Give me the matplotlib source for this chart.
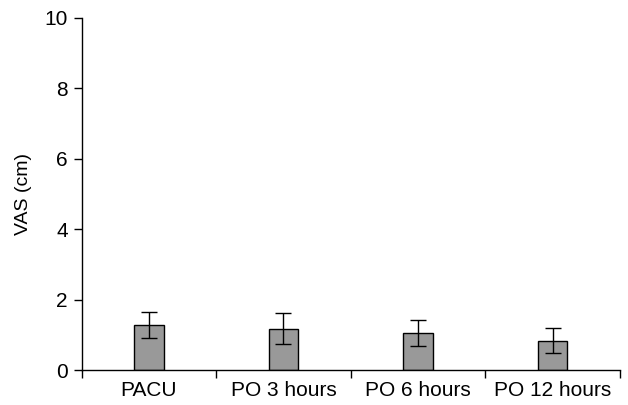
import matplotlib
matplotlib.use("Agg")
import matplotlib.pyplot as plt
import numpy as np

# data
categories = ["PACU", "PO 3 hours", "PO 6 hours", "PO 12 hours"]
vas_mean = [1.27, 1.18, 1.05, 0.84]
vas_err = [0.37, 0.44, 0.36, 0.36]

plt.rcParams['font.family'] = ['Liberation Sans', 'DejaVu Sans']

fig = plt.figure(figsize=(6.28, 4.05), dpi=100)
ax = fig.add_axes([0.130, 0.086, 0.857, 0.870])

x = np.arange(len(categories))
ax.bar(x, vas_mean, width=0.22, color='#999999', edgecolor='black', linewidth=1.0,
       yerr=vas_err, capsize=5.5, error_kw={'elinewidth': 1.0, 'capthick': 1.0, 'ecolor': 'black'})

ax.set_xlim(-0.5, len(categories) - 0.5)
ax.set_ylim(0, 10)
ax.set_yticks([0, 2, 4, 6, 8, 10])
ax.set_xticks(x)
ax.set_xticklabels(categories)
ax.tick_params(axis='x', which='major', length=0, pad=8, labelsize=15)
ax.set_xticks(np.arange(len(categories) + 1) - 0.5, minor=True)
ax.tick_params(axis='x', which='minor', length=6, width=1.0, direction='out')
ax.tick_params(axis='y', length=6, width=1.0, direction='out', labelsize=15, pad=4)

ax.spines['top'].set_visible(False)
ax.spines['right'].set_visible(False)
ax.spines['left'].set_linewidth(1.0)
ax.spines['bottom'].set_linewidth(1.0)
ax.set_ylabel('VAS (cm)', fontsize=14, labelpad=9)

plt.savefig("out.png", dpi=100)
plt.close()
